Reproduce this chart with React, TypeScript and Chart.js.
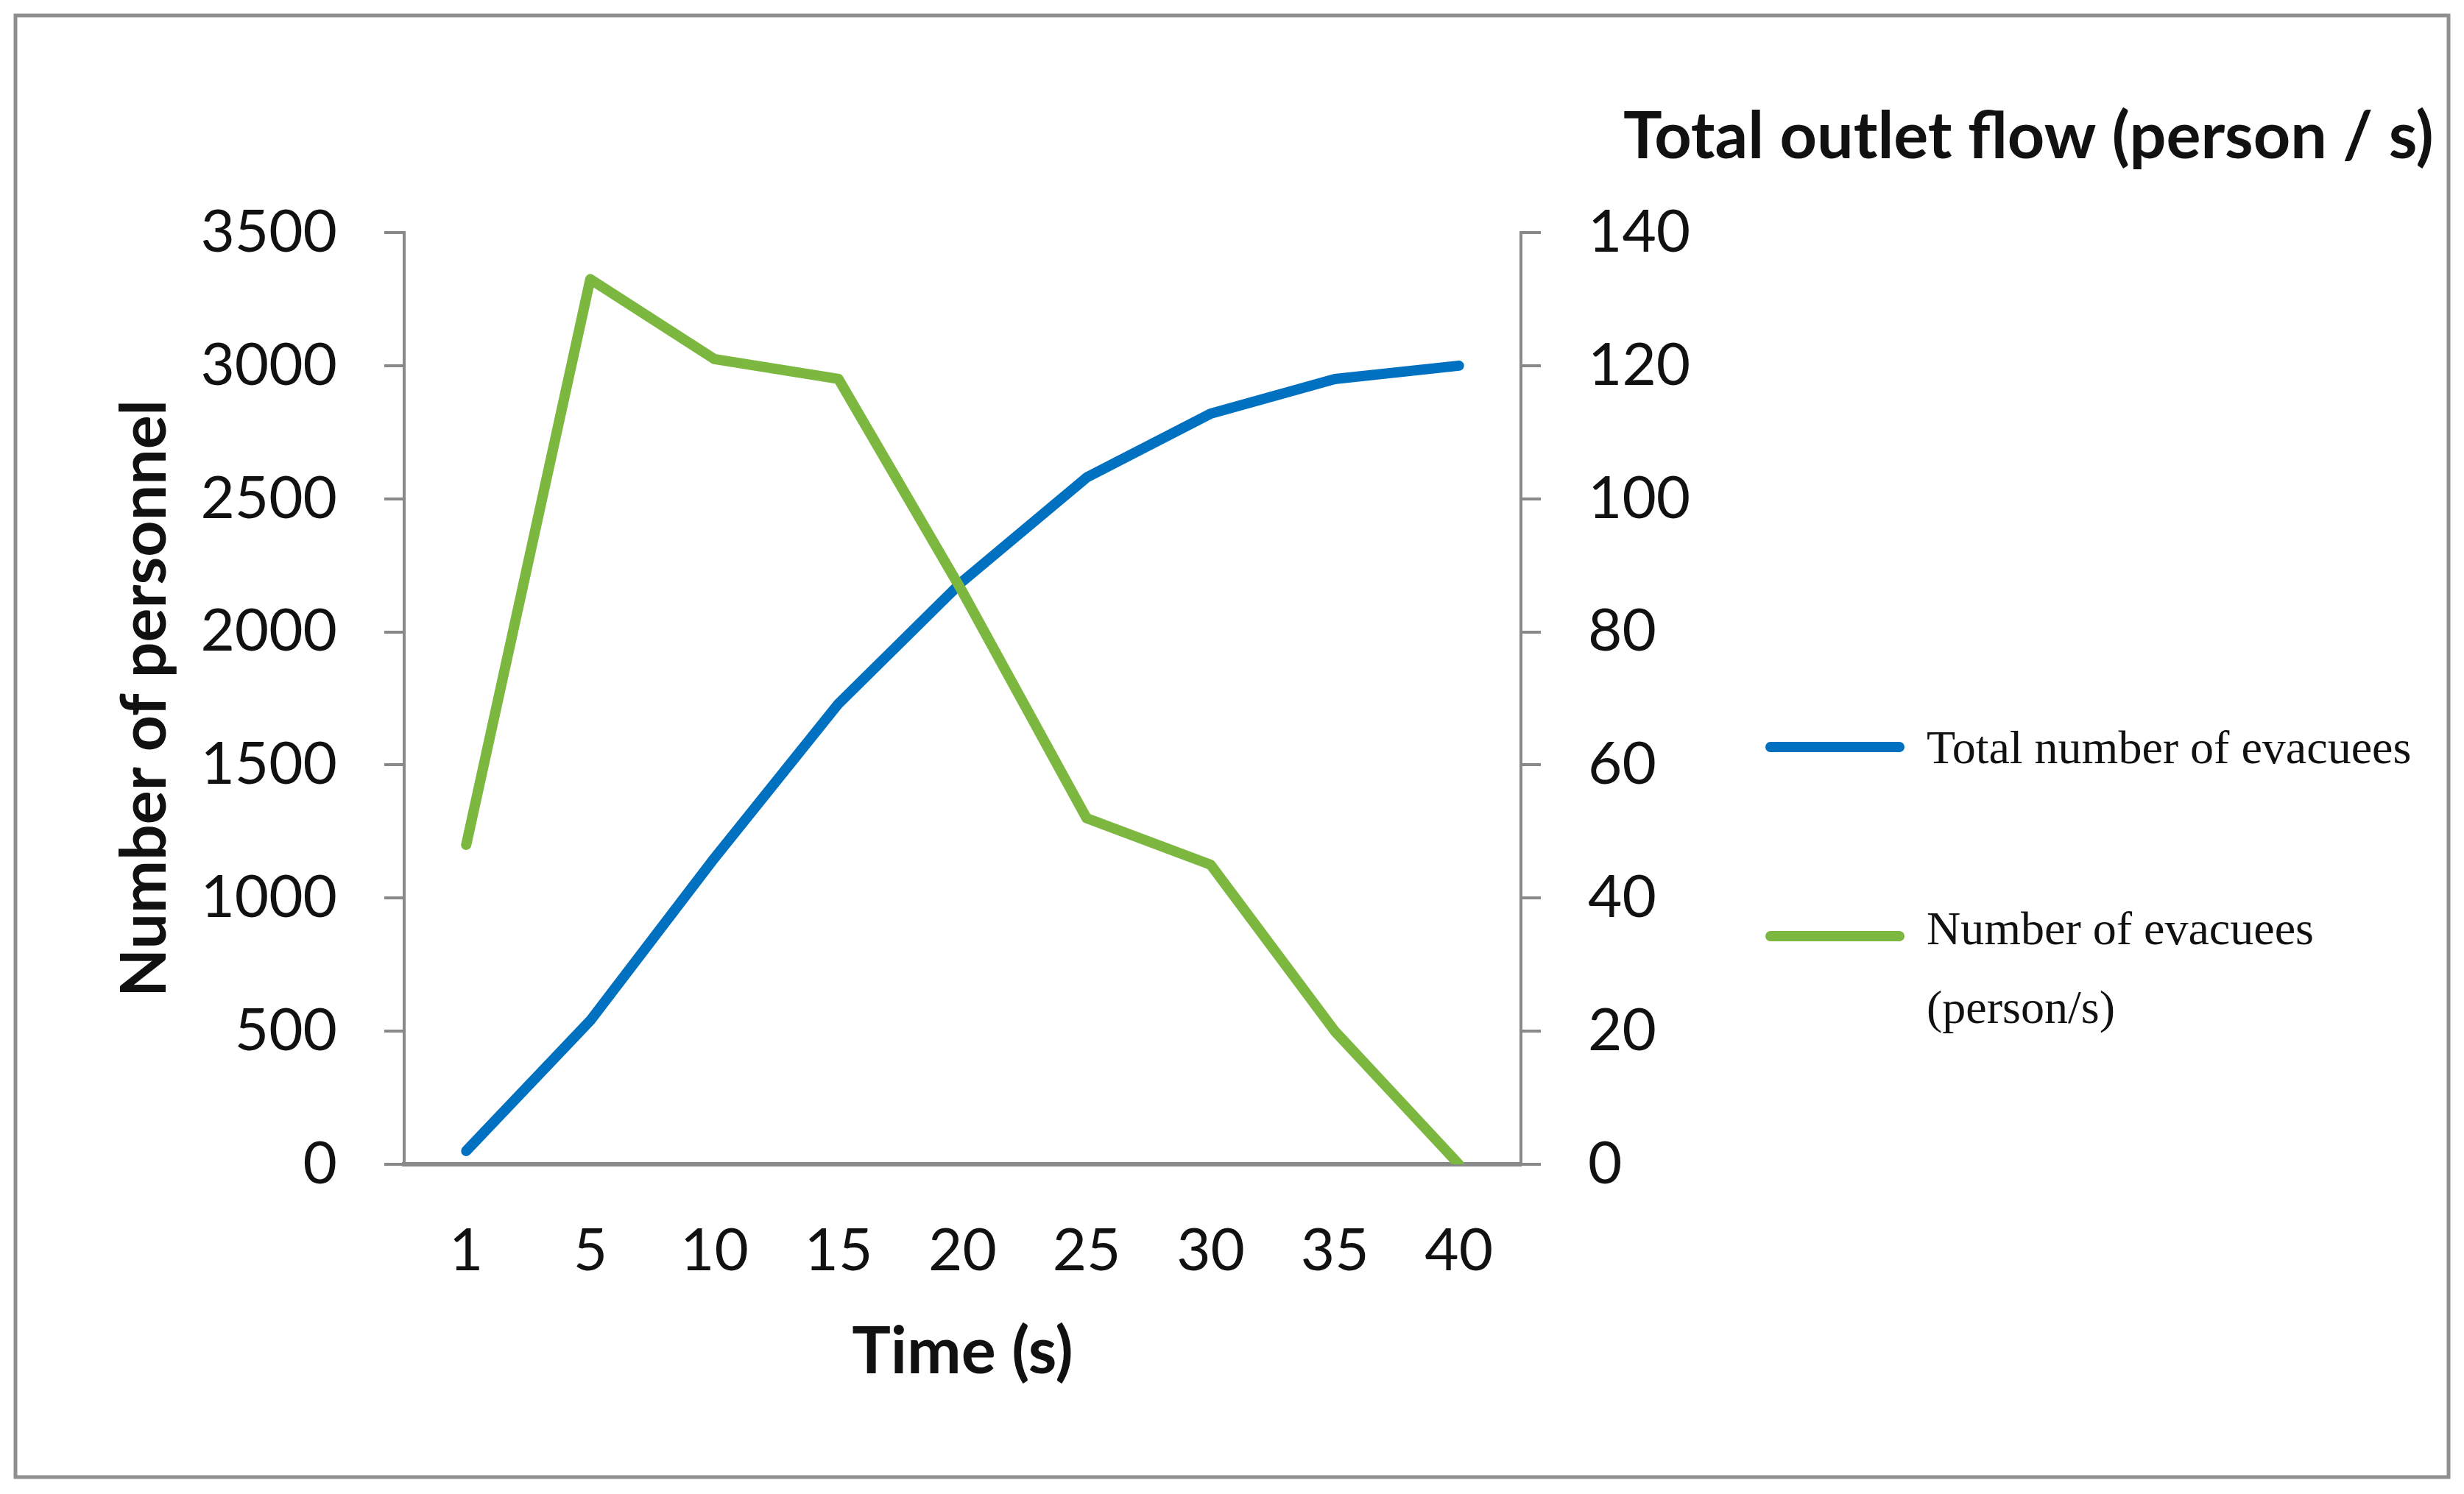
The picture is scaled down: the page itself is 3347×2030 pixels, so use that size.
import React, { useEffect, useRef } from 'react';
import { Chart, registerables } from 'chart.js';

Chart.register(...registerables);

// ---- data ----
const categories = ['1', '5', '10', '15', '20', '25', '30', '35', '40'];
const totalEvacuees = [50, 540, 1150, 1730, 2190, 2580, 2820, 2950, 3000];
const outletFlow = [48, 133, 121, 118, 86, 52, 45, 20, 0];
const leftAxis = { min: 0, max: 3500, step: 500 };
const rightAxis = { min: 0, max: 140, step: 20 };
const seriesLabels = ['Total number of evacuees', 'Number of evacuees (person/s)'];
const legendLines = [['Total number of evacuees'], ['Number of evacuees', '(person/s)']];
const xTitle = 'Time (s)';
const yTitle = 'Number of personnel';
const y1Title = 'Total outlet flow (person / s)';

const W = 3347;
const H = 2030;
const AXIS_GREY = '#898989';
const TEXT = '#111111';
const BLUE = '#0070C0';
const GREEN = '#7CB83F';

const decor = {
  id: 'decor',
  beforeDraw(chart: any) {
    const ctx = chart.ctx;
    ctx.save();
    ctx.fillStyle = '#ffffff';
    ctx.fillRect(0, 0, W, H);
    ctx.restore();
  },
  afterDraw(chart: any) {
    const ctx = chart.ctx;
    const area = chart.chartArea;
    ctx.save();
    // outer frame
    ctx.strokeStyle = '#8f8f8f';
    ctx.lineWidth = 5;
    ctx.strokeRect(21, 21, 3305, 1986);

    // titles
    ctx.fillStyle = TEXT;
    ctx.textBaseline = 'alphabetic';
    ctx.textAlign = 'center';
    ctx.font = 'bold 88px Lato';
    ctx.fillText(xTitle, (area.left + area.right) / 2, 1866);

    ctx.save();
    ctx.font = 'bold 86px Lato';
    ctx.translate(225, 949);
    ctx.rotate(-Math.PI / 2);
    ctx.fillText(yTitle, 0, 0);
    ctx.restore();

    ctx.textAlign = 'left';
    ctx.font = 'bold 88px Lato';
    ctx.fillText(y1Title, 2205, 215);

    // legend
    const rows = [
      { color: chart.data.datasets[1].borderColor, lineY: 1015, lines: legendLines[0], baseY: 1037 },
      { color: chart.data.datasets[0].borderColor, lineY: 1272, lines: legendLines[1], baseY: 1283 },
    ];
    ctx.font = '64px "Liberation Serif"';
    ctx.fillStyle = '#111111';
    rows.forEach((r) => {
      ctx.strokeStyle = r.color;
      ctx.lineWidth = 14;
      ctx.lineCap = 'round';
      ctx.beginPath();
      ctx.moveTo(2405, r.lineY);
      ctx.lineTo(2580, r.lineY);
      ctx.stroke();
      r.lines.forEach((t: string, i: number) => {
        ctx.fillText(t, 2617, r.baseY + i * 107);
      });
    });
    ctx.restore();
  },
};

export default function App() {
  const ref = useRef<HTMLCanvasElement | null>(null);

  useEffect(() => {
    if (!ref.current) return;
    const tickFont = { family: 'Lato', size: 80 };
    const plain = (v: any) => String(v);
    const chart = new Chart(ref.current, {
      type: 'line',
      data: {
        labels: categories,
        datasets: [
          {
            label: seriesLabels[1],
            data: outletFlow,
            yAxisID: 'y1',
            borderColor: GREEN,
            backgroundColor: GREEN,
            borderWidth: 14,
            pointRadius: 0,
            tension: 0,
            borderJoinStyle: 'round',
            borderCapStyle: 'round',
            order: 0,
          },
          {
            label: seriesLabels[0],
            data: totalEvacuees,
            yAxisID: 'y',
            borderColor: BLUE,
            backgroundColor: BLUE,
            borderWidth: 14,
            pointRadius: 0,
            tension: 0,
            borderJoinStyle: 'round',
            borderCapStyle: 'round',
            order: 1,
          },
        ],
      },
      options: {
        animation: false,
        responsive: false,
        devicePixelRatio: 1,
        layout: { padding: { top: 316, left: 0, right: 0, bottom: 0 } },
        plugins: {
          legend: { display: false },
          tooltip: { enabled: false },
          title: { display: false },
        },
        scales: {
          x: {
            type: 'category',
            offset: true,
            grid: { display: false, drawTicks: false },
            border: { display: true, color: AXIS_GREY, width: 6 },
            ticks: { font: tickFont, color: TEXT, padding: 70, maxRotation: 0, autoSkip: false },
            afterFit: (s: any) => {
              s.height = 448;
            },
          },
          y: {
            position: 'left',
            min: leftAxis.min,
            max: leftAxis.max,
            ticks: { stepSize: leftAxis.step, font: tickFont, color: TEXT, padding: 64, callback: plain },
            grid: { drawOnChartArea: false, drawTicks: true, tickLength: 27, color: AXIS_GREY, lineWidth: 4 },
            border: { display: true, color: AXIS_GREY, width: 4 },
            afterFit: (s: any) => {
              s.width = 549;
            },
          },
          y1: {
            position: 'right',
            min: rightAxis.min,
            max: rightAxis.max,
            ticks: { stepSize: rightAxis.step, font: tickFont, color: TEXT, padding: 64, callback: plain },
            grid: { drawOnChartArea: false, drawTicks: true, tickLength: 27, color: AXIS_GREY, lineWidth: 4 },
            border: { display: true, color: AXIS_GREY, width: 4 },
            afterFit: (s: any) => {
              s.width = W - 2066;
            },
          },
        },
      },
      plugins: [decor],
    } as any);
    return () => chart.destroy();
  }, []);

  return (
    <div style={{ position: 'absolute', left: 0, top: 0, width: W, height: H, background: '#fff' }}>
      <canvas ref={ref} width={W} height={H} style={{ display: 'block', width: W, height: H }} />
    </div>
  );
}
